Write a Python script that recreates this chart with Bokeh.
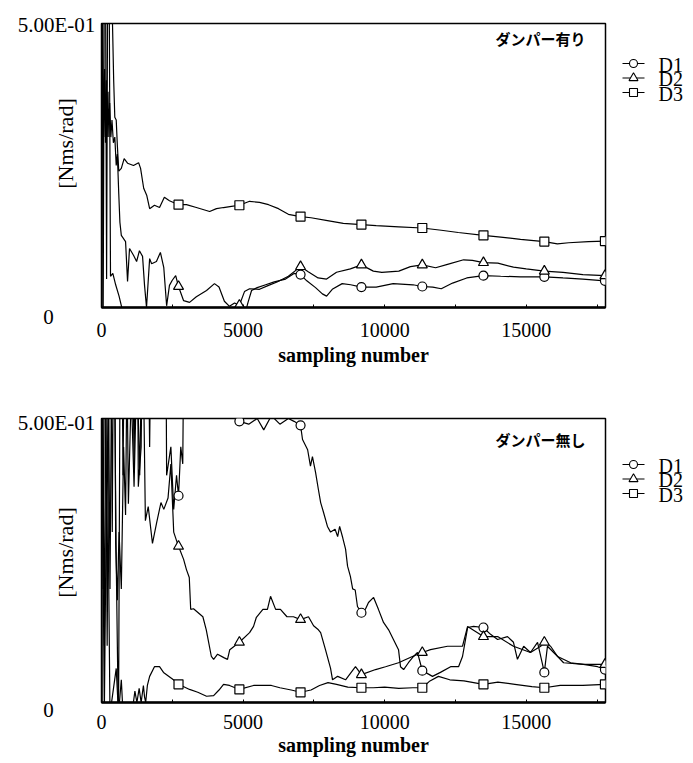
import numpy as np
from bokeh.plotting import figure
from bokeh.models import Range1d, FixedTicker, Label, Span
from bokeh.layouts import column, row
from bokeh.embed import file_html
from bokeh.resources import INLINE
from bokeh.core.properties import value

# ---------------- data ----------------
X_MAX = 17800
Y_MAX = 0.5
X_TICKS = [0, 5000, 10000, 15000]
X_MINOR = [2500, 7500, 12500, 17500]
Y_TICK_LABELS = ["0", "5.00E-01"]
X_LABEL = "sampling number"
Y_LABEL = "[Nms/rad]"
SERIES = ["D1", "D2", "D3"]
MARKERS = ["circle", "triangle", "square"]
MARKER_X = [2720, 4870, 7030, 9180, 11330, 13490, 15640, 17780]

TOP_TITLE = "ダンパー有り"
top_d1_x = [0, 60, 120, 180, 240, 318, 400, 500, 620, 740, 1500, 3000, 4500, 5100, 5180, 5300, 5500,
            5800, 6100, 6500, 6800, 7030, 7250, 7560, 7800, 7950, 8150, 8500, 8800, 9180, 9700, 10300,
            11000, 11330, 11700, 12000, 12400, 12900, 13490, 14100, 14800, 15640, 16300, 17000, 17780]
top_d1_y = [0.9, 0.0, 0.9, 0.05, 0.9, 0.055, 0.06, 0.04, 0.02, -0.005, -0.01, -0.01, -0.01, -0.005, 0.01,
            0.03, 0.035, 0.04, 0.045, 0.05, 0.06, 0.058, 0.047, 0.035, 0.024, 0.02, 0.032, 0.042, 0.04,
            0.036, 0.036, 0.042, 0.04, 0.037, 0.036, 0.033, 0.043, 0.052, 0.056, 0.055, 0.054, 0.054,
            0.052, 0.05, 0.047]
top_d2_x = [0, 50, 80, 110, 140, 170, 200, 230, 260, 290, 330, 370, 420, 470, 520, 560, 610, 650, 700,
            850, 920, 990, 1130, 1240, 1340, 1450, 1520, 1590, 1700, 1770, 1940, 2080, 2200, 2300, 2400,
            2500, 2620, 2720, 2900, 3110, 3350, 3710, 3990, 4150, 4340, 4520, 4700, 4870, 5050, 5230,
            5580, 5900, 6200, 6600, 7030, 7300, 7650, 7950, 8300, 8790, 9180, 9600, 9900, 10500, 10910,
            11330, 11800, 12220, 12790, 13100, 13490, 14000, 14550, 15000, 15640, 16300, 17000, 17780]
top_d2_y = [0.9, 0.45, 0.3, 0.42, 0.29, 0.4, 0.3, 0.38, 0.3, 0.36, 0.3, 0.33, 0.29, 0.3, 0.25, 0.27,
            0.2, 0.15, 0.127, 0.116, 0.046, 0.104, 0.092, 0.081, 0.1, 0.09, 0.039, 0.0, 0.086, 0.077,
            0.081, 0.097, 0.07, 0.003, 0.039, 0.048, 0.056, 0.037, 0.012, 0.009, 0.019, 0.03, 0.042,
            0.036, 0.011, 0.002, 0.008, 0.004, 0.028, 0.033, 0.032, 0.039, 0.045, 0.055, 0.072, 0.063,
            0.052, 0.05, 0.062, 0.068, 0.075, 0.064, 0.062, 0.064, 0.072, 0.075, 0.07, 0.076, 0.084,
            0.083, 0.079, 0.078, 0.071, 0.068, 0.064, 0.062, 0.058, 0.056]
top_d3_x = [0, 300, 380, 430, 470, 520, 560, 610, 700, 800, 920, 1130, 1310, 1380, 1490, 1600, 1700,
            1870, 2050, 2220, 2400, 2720, 3000, 3350, 3820, 4060, 4310, 4590, 4870, 5230, 5580, 5900,
            6250, 6600, 7030, 7400, 7980, 8540, 9180, 9700, 10500, 11330, 12000, 12600, 13490, 14100,
            14800, 15640, 16100, 16500, 17200, 17780]
top_d3_y = [0.95, 0.7, 0.52, 0.4, 0.335, 0.33, 0.285, 0.24, 0.245, 0.262, 0.254, 0.25, 0.255, 0.245,
            0.21, 0.197, 0.174, 0.18, 0.176, 0.194, 0.188, 0.181, 0.181, 0.176, 0.169, 0.174, 0.176,
            0.178, 0.18, 0.187, 0.185, 0.181, 0.174, 0.164, 0.16, 0.158, 0.153, 0.148, 0.146, 0.144,
            0.142, 0.14, 0.136, 0.132, 0.127, 0.124, 0.12, 0.116, 0.112, 0.114, 0.116, 0.117]

BOTTOM_TITLE = "ダンパー無し"
bot_d1_x = [0, 100, 200, 300, 400, 520, 600, 680, 760, 850, 950, 1050, 1150, 1250, 1300, 1400, 1500,
            1600, 1700, 1800, 2250, 2300, 2450, 2550, 2650, 2720, 2800, 2870, 2950, 3500, 4000, 4500,
            4870, 5200, 5500, 5730, 6000, 6300, 6600, 6800, 7030, 7100, 7280, 7380, 7450, 7560, 7660,
            7740, 7840, 7980, 8090, 8250, 8340, 8410, 8520, 8620, 8690, 8790, 8870, 8960, 9040, 9180,
            9320, 9430, 9610, 9780, 9960, 10140, 10310, 10490, 10560, 10670, 10840, 11020, 11160, 11330,
            11440, 11690, 11970, 12330, 12610, 12750, 12930, 13140, 13490, 13740, 13990, 14340, 14550,
            14690, 14910, 15150, 15400, 15640, 15750, 16110, 16570, 17020, 17520, 17780]
bot_d1_y = [0.9, 0.1, 0.9, 0.2, 0.9, 0.25, -0.05, 0.9, 0.4, 0.9, 0.5, 0.9, 0.42, 0.9, 0.38, 0.45, 0.9,
            0.9, 0.45, 0.9, 0.9, 0.4, 0.45, 0.34, 0.4, 0.364, 0.45, 0.42, 0.9, 0.6, 0.55, 0.6, 0.495,
            0.49, 0.5, 0.48, 0.505, 0.49, 0.5, 0.495, 0.488, 0.463, 0.445, 0.416, 0.433, 0.405, 0.375,
            0.352, 0.335, 0.31, 0.3, 0.305, 0.292, 0.31, 0.29, 0.27, 0.24, 0.222, 0.2, 0.198, 0.169,
            0.158, 0.164, 0.176, 0.185, 0.164, 0.141, 0.128, 0.111, 0.093, 0.063, 0.058, 0.07, 0.081,
            0.088, 0.056, 0.053, 0.046, 0.053, 0.063, 0.063, 0.081, 0.132, 0.134, 0.132, 0.12, 0.111,
            0.116, 0.106, 0.076, 0.099, 0.088, 0.106, 0.053, 0.099, 0.081, 0.07, 0.067, 0.063, 0.058]
bot_d2_x = [0, 60, 120, 200, 300, 380, 450, 500, 560, 620, 700, 780, 850, 900, 950, 1050, 1150, 1250,
            1350, 1450, 1550, 1650, 1800, 1950, 2100, 2200, 2350, 2450, 2550, 2650, 2720, 2900, 3000,
            3100, 3150, 3250, 3580, 3700, 3880, 3960, 4100, 4320, 4450, 4530, 4870, 5230, 5370, 5470,
            5700, 5860, 5970, 6150, 6320, 6550, 6780, 7030, 7310, 7490, 7660, 7740, 7910, 8090, 8160,
            8340, 8620, 8970, 9180, 9680, 10030, 10490, 10980, 11330, 11620, 12220, 12750, 12930, 13280,
            13490, 13990, 14550, 15150, 15510, 15640, 15860, 16110, 16320, 17020, 17780]
bot_d2_y = [0.9, 0.2, 0.8, 0.1, 0.9, 0.3, 0.9, 0.28, 0.18, 0.3, 0.2, 0.45, 0.33, 0.6, 0.35, 0.55, 0.38,
            0.6, 0.4, 0.7, 0.32, 0.345, 0.28, 0.317, 0.352, 0.34, 0.36, 0.42, 0.3, 0.285, 0.275, 0.252,
            0.234, 0.22, 0.164, 0.165, 0.151, 0.128, 0.081, 0.076, 0.085, 0.079, 0.076, 0.093, 0.106,
            0.123, 0.134, 0.15, 0.164, 0.164, 0.187, 0.164, 0.164, 0.151, 0.151, 0.146, 0.151, 0.135,
            0.128, 0.123, 0.093, 0.06, 0.04, 0.046, 0.04, 0.063, 0.049, 0.058, 0.063, 0.07, 0.081, 0.088,
            0.093, 0.099, 0.099, 0.134, 0.123, 0.116, 0.116, 0.099, 0.088, 0.099, 0.106, 0.099, 0.081,
            0.07, 0.067, 0.067]
bot_d3_x = [0, 100, 200, 300, 520, 600, 700, 760, 1100, 1180, 1250, 1330, 1400, 1480, 1520, 1560, 1620,
            1700, 1870, 2050, 2190, 2540, 2720, 3110, 3400, 3710, 3960, 4150, 4310, 4520, 4870, 5370,
            6000, 6300, 6700, 7030, 7400, 7700, 8000, 8300, 8700, 9180, 9600, 10000, 10500, 11000,
            11330, 11600, 11900, 12300, 12800, 13490, 14000, 14600, 15200, 15640, 16200, 17000, 17780]
bot_d3_y = [0.6, -0.02, 0.5, -0.02, 0.06, -0.02, 0.04, -0.02, -0.01, 0.02, 0.0, 0.025, 0.0, 0.03, 0.01,
            0.0, 0.03, 0.046, 0.063, 0.063, 0.053, 0.04, 0.032, 0.023, 0.018, 0.011, 0.012, 0.022,
            0.032, 0.03, 0.023, 0.03, 0.03, 0.026, 0.022, 0.018, 0.022, 0.03, 0.035, 0.032, 0.027, 0.026,
            0.026, 0.027, 0.025, 0.026, 0.026, 0.038, 0.046, 0.04, 0.038, 0.032, 0.036, 0.032, 0.028,
            0.026, 0.03, 0.03, 0.032]

# ---------------- style ----------------
SERIF = "Liberation Serif"
JP = "Noto Sans CJK JP"
FRAME_W, FRAME_H = 504, 284
LEFT_W = 96          # strip with the y-axis texts
RIGHT_W = 82         # strip with the legend
MAIN_BORDER_L = 5
MAIN_BORDER_R = 4
PX_X = X_MAX / FRAME_W
PX_Y = Y_MAX / FRAME_H


def strip(width, height):
    q = figure(width=width, height=height, x_range=Range1d(0, width), y_range=Range1d(height, 0),
               output_backend="svg", toolbar_location=None, x_axis_location=None,
               y_axis_location=None, min_border=0, frame_align=False)
    q.grid.visible = False
    q.outline_line_color = None
    return q


def make_left(height, top_label_y, zero_label_y, ylabel_y):
    """Strip with the y-axis tick labels and y-axis title (pixel coordinates)."""
    q = strip(LEFT_W, height)
    q.text(x=[56], y=[top_label_y], text=[Y_TICK_LABELS[1]], text_align="center",
           text_baseline="middle", text_font=value(SERIF), text_font_size=value("21px"),
           text_color="black")
    q.text(x=[48], y=[zero_label_y], text=[Y_TICK_LABELS[0]], text_align="center",
           text_baseline="middle", text_font=value(SERIF), text_font_size=value("21px"),
           text_color="black")
    q.text(x=[65], y=[ylabel_y], text=[Y_LABEL], angle=np.pi / 2, text_align="center",
           text_baseline="middle", text_font=value(SERIF), text_font_size=value("22px"),
           text_color="black")
    return q


def make_legend(height, first_row_y, row_step=14.5):
    """Strip with the series key: line + open marker + name, stacked tightly."""
    q = strip(RIGHT_W, height)
    for i, (name, marker) in enumerate(zip(SERIES, MARKERS)):
        yy = first_row_y + i * row_step
        q.segment(x0=[13], y0=[yy], x1=[35], y1=[yy], line_color="black", line_width=1.2)
        q.scatter(x=[24], y=[yy], marker=marker, size=8 if marker != "triangle" else 9,
                  fill_color="white", line_color="black", line_width=1.1)
        q.text(x=[49], y=[yy + 1], text=[name], text_align="left", text_baseline="middle",
               text_font=value(SERIF), text_font_size=value("20px"), text_color="black")
    return q


def make_panel(title, xs_list, ys_list, border_top, border_bottom, tick_standoff, label_standoff,
               title_dy):
    p = figure(frame_width=FRAME_W, frame_height=FRAME_H,
               x_range=Range1d(0, X_MAX), y_range=Range1d(0, Y_MAX),
               output_backend="svg", toolbar_location=None, frame_align=False,
               min_border_left=MAIN_BORDER_L, min_border_right=MAIN_BORDER_R,
               min_border_top=border_top, min_border_bottom=border_bottom)
    p.grid.visible = False
    p.outline_line_color = "black"
    p.outline_line_width = 1.5
    p.yaxis.visible = False

    ax = p.xaxis[0]
    ax.ticker = FixedTicker(ticks=X_TICKS, minor_ticks=X_MINOR)
    ax.axis_line_width = 2.5
    ax.major_tick_in = 3
    ax.major_tick_out = 0
    ax.minor_tick_in = 3
    ax.minor_tick_out = 0
    ax.major_label_standoff = tick_standoff
    ax.major_label_text_font = SERIF
    ax.major_label_text_font_size = "20px"
    ax.major_label_text_color = "black"
    ax.axis_label = X_LABEL
    ax.axis_label_standoff = label_standoff
    ax.axis_label_text_font = SERIF
    ax.axis_label_text_font_size = "20px"
    ax.axis_label_text_font_style = "bold"
    ax.axis_label_text_color = "black"

    p.add_layout(Span(location=0, dimension="height", line_color="black", line_width=2.5))

    for marker, xs, ys in zip(MARKERS, xs_list, ys_list):
        p.line(xs, ys, line_color="black", line_width=1.2)
        my = np.interp(MARKER_X, xs, ys)
        p.scatter(MARKER_X, my, marker=marker, size=9 if marker != "triangle" else 10,
                  fill_color="white", line_color="black", line_width=1.2)

    p.add_layout(Label(x=X_MAX - 20 * PX_X, y=Y_MAX - title_dy * PX_Y, text=title,
                       text_align="right", text_baseline="middle",
                       text_font=JP, text_font_size="15px", text_font_style="bold",
                       text_color="black"))
    return p


H1, H2 = 382, 380
p1 = make_panel(TOP_TITLE, [top_d1_x, top_d2_x, top_d3_x], [top_d1_y, top_d2_y, top_d3_y],
                border_top=23, border_bottom=H1 - 23 - FRAME_H, tick_standoff=15, label_standoff=4,
                title_dy=15)
p2 = make_panel(BOTTOM_TITLE, [bot_d1_x, bot_d2_x, bot_d3_x], [bot_d1_y, bot_d2_y, bot_d3_y],
                border_top=36, border_bottom=H2 - 36 - FRAME_H, tick_standoff=12, label_standoff=2,
                title_dy=21)
l1 = make_left(H1, top_label_y=24, zero_label_y=316, ylabel_y=143)
l2 = make_left(H2, top_label_y=422 - H1, zero_label_y=709 - H1, ylabel_y=552 - H1)
r1 = make_legend(H1, first_row_y=63)
r2 = make_legend(H2, first_row_y=464 - H1)

layout = column(row(l1, p1, r1, spacing=0), row(l2, p2, r2, spacing=0), spacing=0)
open("out.html", "w").write(file_html(layout, INLINE))
